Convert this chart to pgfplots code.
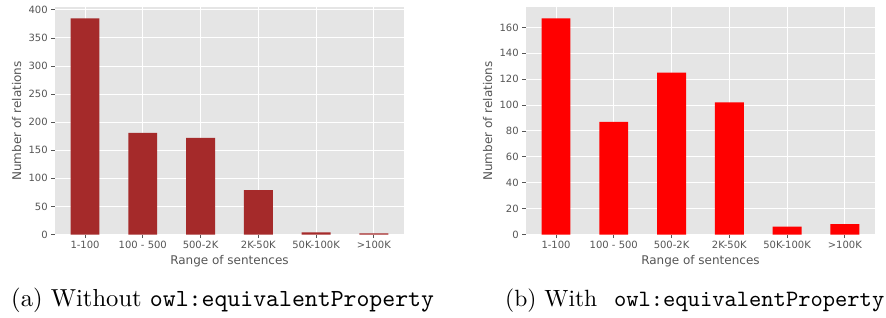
\documentclass[border=0pt]{standalone}
\usepackage{pgfplots}
\pgfplotsset{compat=1.18}
\usepackage{fontspec}
\newfontfamily\dejavu{DejaVu Sans}
\newfontfamily\caprm[Extension=.otf]{lmroman10-regular}
\newfontfamily\captt[Extension=.otf]{lmmono10-regular}
\definecolor{bg}{HTML}{E5E5E5}
\definecolor{txt}{HTML}{555555}
\definecolor{brownbar}{HTML}{A52A2A}
\definecolor{redbar}{HTML}{FF0000}
\pgfplotsset{
 mystyle/.style={
  scale only axis, width=349.5pt, height=227pt,
  axis background/.style={fill=bg},
  axis line style={draw=none},
  grid=major, major grid style={white, line width=1pt},
  tick align=outside, major tick length=3.5pt,
  every tick/.style={txt, line width=0.8pt},
  tick label style={font=\dejavu\fontsize{10}{12}\selectfont, text=txt},
  /pgf/number format/assume math mode=true,
  xmin=-0.525, xmax=5.525, ymin=0,
  xtick={0,...,5},
  xticklabels={1-100,100 - 500,500-2K,2K-50K,50K-100K,>100K},
  xtick pos=lower, ytick pos=left,
  ybar, bar width=0.5,
  xlabel={Range of sentences}, ylabel={Number of relations},
  every axis x label/.style={at={(rel axis cs:0.5,0)}, anchor=center, yshift=-27pt, font=\dejavu\fontsize{12}{14}\selectfont, text=txt},
  every axis y label/.style={at={(rel axis cs:0,0.5)}, anchor=center, xshift=-38pt, rotate=90, font=\dejavu\fontsize{12}{14}\selectfont, text=txt},
  scaled y ticks=false,
 }
}
\begin{document}
\begin{tikzpicture}
\useasboundingbox (0pt,0pt) rectangle (886pt,317pt);
\begin{axis}[mystyle, at={(54.7pt,82.5pt)}, anchor=south west,
  ymax=404.25, ytick={0,50,...,400}]
\addplot[fill=brownbar, draw=none] coordinates {(0,385) (1,181) (2,172) (3,79) (4,4) (5,2)};
\end{axis}
\begin{axis}[mystyle, at={(525.7pt,82.5pt)}, anchor=south west,
  ymax=175.35, ytick={0,20,...,160}]
\addplot[fill=redbar, draw=none] coordinates {(0,167) (1,87) (2,125) (3,102) (4,6) (5,8)};
\end{axis}
\node[anchor=base west, inner sep=0pt] at (11pt,10.3pt) {\fontsize{24.6}{30}\selectfont\caprm (a) Without \captt owl:equivalentProperty};
\node[anchor=base west, inner sep=0pt] at (505pt,10.3pt) {\fontsize{23.5}{28}\selectfont\caprm (b) With};
\node[anchor=base east, inner sep=0pt] at (884.5pt,10.3pt) {\fontsize{23.4}{28}\selectfont\captt owl:equivalentProperty};
\end{tikzpicture}
\end{document}
